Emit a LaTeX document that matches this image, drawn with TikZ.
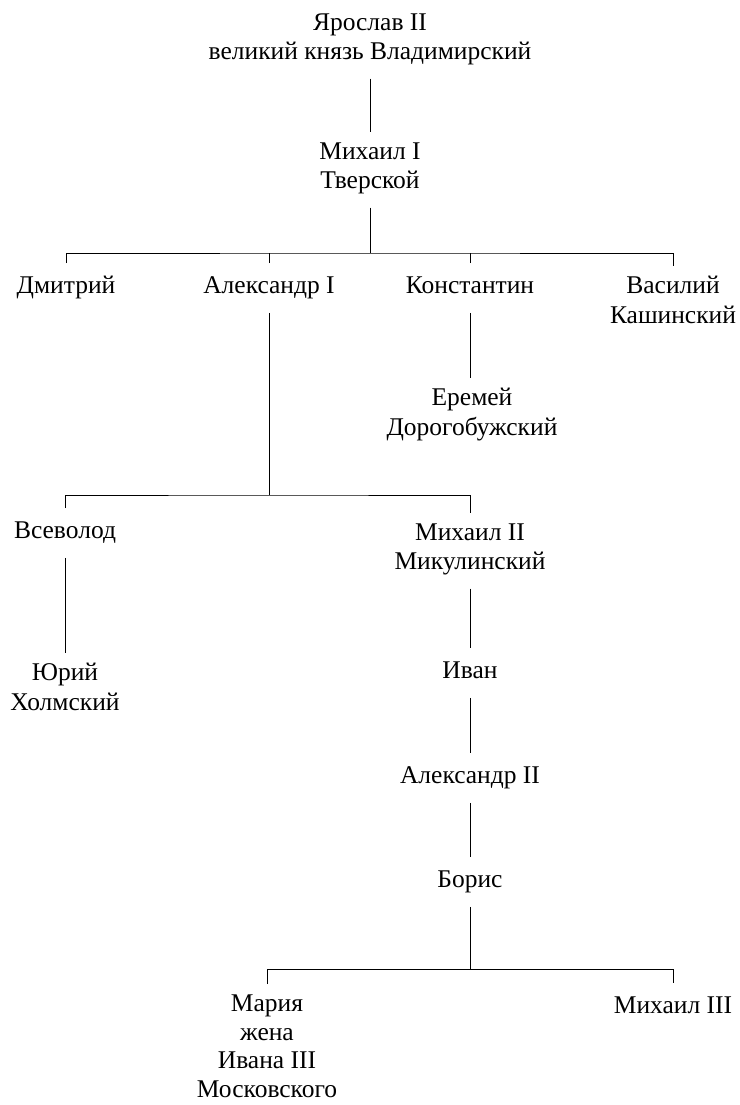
\documentclass[tikz,border=0pt]{standalone}
\usepackage{fontspec}
\setmainfont{Liberation Serif}
\begin{document}
\begin{tikzpicture}[x=1pt,y=-1pt,
  person/.style={align=center,inner xsep=0pt,inner ysep=10pt,
    font=\fontsize{25.5}{29.5}\selectfont,
    execute at begin node={\strut}, execute at end node={\strut}},
  lastperson/.style={align=center,inner xsep=0pt,inner ysep=2pt,
    font=\fontsize{25.5}{28.5}\selectfont,
    execute at begin node={\strut}},
  link/.style={draw=black,line width=0.8pt}]
\useasboundingbox (0,0) rectangle (739,1105);
\node[person] (yar) at (370,41) {Ярослав II\\великий князь Владимирский};
\node[person] (m1) at (370,170) {Михаил I\\Тверской};
\node[person] (dm) at (66,288) {Дмитрий};
\node[person] (a1) at (269,288) {Александр I};
\node[person] (kon) at (470,288) {Константин};
\node[person] (vas) at (673,304) {Василий\\Кашинский};
\node[person] (er) at (472,416) {Еремей\\Дорогобужский};
\node[person] (vs) at (65,533) {Всеволод};
\node[person] (m2) at (470,551) {Михаил II\\Микулинский};
\node[person] (yu) at (65,691) {Юрий\\Холмский};
\node[person] (iv) at (470,673) {Иван};
\node[person] (a2) at (470,778) {Александр II};
\node[person] (bor) at (470,882) {Борис};
\node[lastperson,anchor=north] (mar) at (267,993) {Мария\\жена\\Ивана III\\Московского};
\node[person] (m3) at (673,1008) {Михаил III};
\coordinate (j1) at (370,253);
\coordinate (j2) at (269,495);
\coordinate (j3) at (470,969);
\draw[link] (yar.south) -- (m1.north);
\draw[link] (m1.south) -- (j1);
\draw[link] (dm.north) |- (j1) -| (vas.north);
\draw[link] (a1.north) -- (a1.north |- j1);
\draw[link] (kon.north) -- (kon.north |- j1);
\draw[link] (kon.south) -- (er.north -| kon.south);
\draw[link] (a1.south) -- (j2);
\draw[link] (vs.north) |- (j2) -| (m2.north);
\draw[link] (vs.south) -- (yu.north);
\draw[link] (m2.south) -- (iv.north);
\draw[link] (iv.south) -- (a2.north);
\draw[link] (a2.south) -- (bor.north);
\draw[link] (bor.south) -- (j3);
\draw[link] ([yshift=9pt]mar.north) |- (j3) -| (m3.north);
\end{tikzpicture}
\end{document}
